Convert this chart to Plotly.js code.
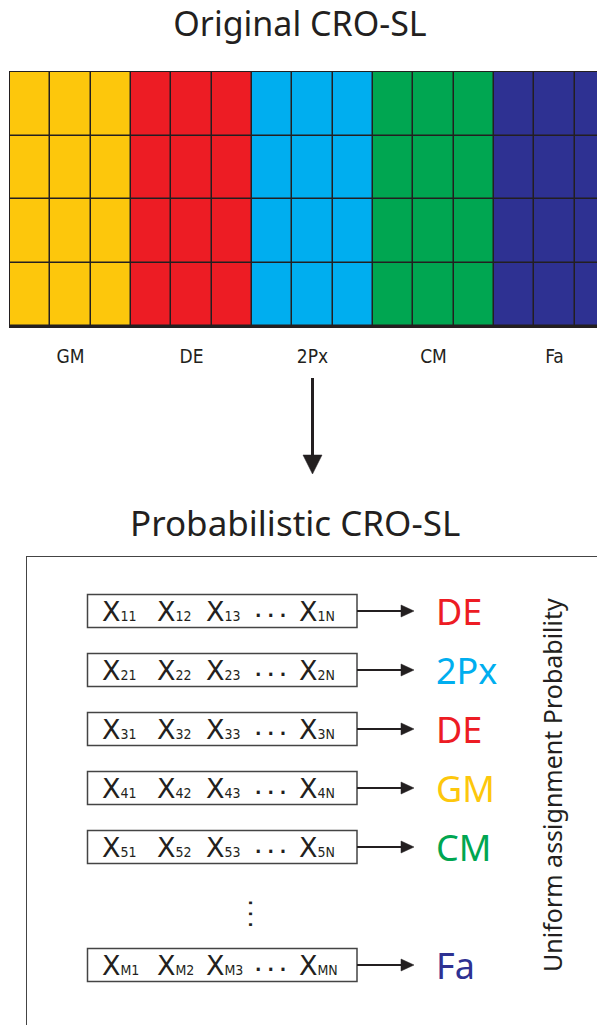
<!DOCTYPE html>
<html><head><meta charset="utf-8">
<script src="https://cdn.plot.ly/plotly-3.0.1.min.js"></script>
<style>html,body{margin:0;padding:0;background:#fff;} #chart{width:597px;height:1025px;}</style>
</head><body><div id="chart"></div>
<script>
// ---------------- data ----------------
const algorithms = ["GM", "DE", "2Px", "CM", "Fa"];
const algColors = ["#FDC70C", "#ED1C24", "#00AEEF", "#00A651", "#2E3192"];
const cellsPerSubstrate = 3;
const reefRows = 4;
const solutionRows = ["1", "2", "3", "4", "5", "M"];
const assignedAlg = ["DE", "2Px", "DE", "GM", "CM", "Fa"];
const geneLabels = ["1", "2", "3", "N"];
const titleTop = "Original CRO-SL";
const titleBottom = "Probabilistic CRO-SL";
const sideLabel = "Uniform assignment Probability";

// ---------------- layout geometry (px) ----------------
const W = 597, H = 1025;
const px = v => v / W, py = v => 1 - v / H;
const ink = "#231F20";
const grid = {left: 10, top: 72, bottom: 326, cell: 40.33};
const low = {left: 27, top: 557, row0: 611, rowStep: 59};
const geneX = [102, 157, 206, 299];
const dotsX = 255;
const boxX = [87.5, 357];
const arrowX = [357, 414];
const labelX = 436;
const nudge = p => p / low.rowStep;           // pixel offset expressed in row units
const rowIdx = i => (i < solutionRows.length - 1 ? i : i + 1);

// ---------------- top reef heatmap ----------------
const nCols = algorithms.length * cellsPerSubstrate;
const z = [];
for (let r = 0; r < reefRows; r++) {
  const row = [];
  for (let c = 0; c < nCols; c++) row.push(Math.floor(c / cellsPerSubstrate));
  z.push(row);
}
const cscale = algColors.map((c, i) => [i / (algColors.length - 1), c]);
const heat = {
  type: "heatmap", z: z, xaxis: "x", yaxis: "y",
  colorscale: cscale, zmin: 0, zmax: algorithms.length - 1,
  showscale: false, xgap: 1.5, ygap: 1.5, hoverinfo: "skip"
};

// ---------------- bottom rows ----------------
const subStyle = "font-family:'DejaVu Sans Condensed','Liberation Sans Narrow',sans-serif;font-size:14px";
const cx = [], cy = [], ct = [];
solutionRows.forEach((r, i) => {
  geneLabels.forEach((g, j) => {
    cx.push(geneX[j]); cy.push(rowIdx(i) + nudge(3));
    ct.push('X<span style="' + subStyle + '">' + r + g + '</span>');
  });
});
const cellsTrace = {
  type: "scatter", mode: "text", x: cx, y: cy, text: ct, xaxis: "x2", yaxis: "y2",
  textposition: "middle right", textfont: {family: "DejaVu Sans", size: 27, color: ink},
  hoverinfo: "skip", cliponaxis: false
};
const dotsTrace = {
  type: "scatter", mode: "text", x: solutionRows.map(() => dotsX), y: solutionRows.map((r, i) => rowIdx(i) + nudge(2)),
  text: solutionRows.map(() => ". . ."), xaxis: "x2", yaxis: "y2",
  textposition: "middle right", textfont: {family: "DejaVu Sans", size: 17, weight: "bold", color: ink},
  hoverinfo: "skip", cliponaxis: false
};
const labelTrace = {
  type: "scatter", mode: "text", x: assignedAlg.map(() => labelX), y: assignedAlg.map((a, i) => rowIdx(i) + nudge(5)),
  text: assignedAlg, xaxis: "x2", yaxis: "y2",
  textposition: "middle right",
  textfont: {family: "Noto Sans", size: 36, color: assignedAlg.map(a => algColors[algorithms.indexOf(a)])},
  hoverinfo: "skip", cliponaxis: false
};

const shapes = [];
// dark background for the reef so the cell gaps read as grid lines
shapes.push({type: "rect", xref: "x", yref: "y", x0: -0.5, x1: -0.5 + (W - grid.left) / grid.cell, y0: -0.5, y1: reefRows - 0.5,
  fillcolor: ink, line: {width: 0}, layer: "below"});
const halfBox = nudge(16.5);
const headH = nudge(6);
solutionRows.forEach((r, i) => {
  const y = rowIdx(i);
  shapes.push({type: "rect", xref: "x2", yref: "y2", x0: boxX[0], x1: boxX[1], y0: y - halfBox, y1: y + halfBox,
    line: {color: "#444", width: 1.5}, fillcolor: "rgba(0,0,0,0)"});
  shapes.push({type: "line", xref: "x2", yref: "y2", x0: arrowX[0], x1: arrowX[1] - 10, y0: y, y1: y,
    line: {color: ink, width: 2}});
  shapes.push({type: "path", xref: "x2", yref: "y2",
    path: "M " + (arrowX[1] - 13) + "," + (y - headH) + " L " + arrowX[1] + "," + y + " L " + (arrowX[1] - 13) + "," + (y + headH) + " Z",
    fillcolor: ink, line: {color: ink, width: 0.5}});
});
// main down arrow
shapes.push({type: "line", xref: "paper", yref: "paper", x0: px(312.5), x1: px(312.5), y0: py(378), y1: py(458),
  line: {color: ink, width: 3}});
shapes.push({type: "path", xref: "paper", yref: "paper",
  path: "M " + px(303) + "," + py(455) + " L " + px(322) + "," + py(455) + " L " + px(312.5) + "," + py(474) + " Z",
  fillcolor: ink, line: {color: ink, width: 0.5}});

const annotations = [
  {xref: "paper", yref: "paper", x: px(295), y: py(522), text: titleBottom, showarrow: false,
   xanchor: "center", yanchor: "middle", font: {family: "Noto Sans", size: 35, color: ink}},
  {xref: "paper", yref: "paper", x: px(552), y: py(785), text: sideLabel, showarrow: false, textangle: -90,
   xanchor: "center", yanchor: "middle", font: {family: "Noto Sans", size: 25, color: ink}},
  {xref: "x2", yref: "y2", x: 254, y: solutionRows.length - 1 + nudge(8), text: ". . .", showarrow: false, textangle: 90,
   xanchor: "center", yanchor: "middle", font: {family: "DejaVu Sans", size: 15, weight: "bold", color: ink}}
];

const layout = {
  width: W, height: H, margin: {l: 0, r: 0, t: 0, b: 0},
  paper_bgcolor: "#fff", plot_bgcolor: "rgba(0,0,0,0)", showlegend: false,
  title: {text: titleTop, x: px(300), y: py(24), xanchor: "center", yanchor: "middle",
    font: {family: "Noto Sans", size: 34, color: ink}},
  xaxis: {domain: [px(grid.left), 1], range: [-0.5, -0.5 + (W - grid.left) / grid.cell], fixedrange: true,
    showgrid: false, zeroline: false, showline: true, mirror: true, linecolor: ink, linewidth: 1.5,
    tickvals: algorithms.map((a, i) => i * cellsPerSubstrate + (cellsPerSubstrate - 1) / 2),
    ticktext: algorithms, ticks: "", ticklabelstandoff: 13,
    tickfont: {family: "DejaVu Sans Condensed, Liberation Sans Narrow, sans-serif", size: 19, color: ink}},
  yaxis: {domain: [py(grid.bottom), py(grid.top)], range: [-0.5, reefRows - 0.5], fixedrange: true,
    showgrid: false, zeroline: false, showline: true, mirror: false, linecolor: ink, linewidth: 1.5,
    showticklabels: false, ticks: ""},
  xaxis2: {domain: [px(low.left), 1], range: [low.left, W], anchor: "y2", side: "top", fixedrange: true,
    showgrid: false, zeroline: false, showline: true, linecolor: "#444", linewidth: 1.5,
    showticklabels: false, ticks: ""},
  yaxis2: {domain: [0, py(low.top)], anchor: "x2", fixedrange: true,
    range: [(H - low.row0) / low.rowStep, (low.top - low.row0) / low.rowStep],
    showgrid: false, zeroline: false, showline: true, linecolor: "#444", linewidth: 1.5,
    showticklabels: false, ticks: ""},
  shapes: shapes, annotations: annotations
};
Plotly.newPlot("chart", [heat, cellsTrace, dotsTrace, labelTrace], layout, {displayModeBar: false, staticPlot: true});
</script></body></html>
